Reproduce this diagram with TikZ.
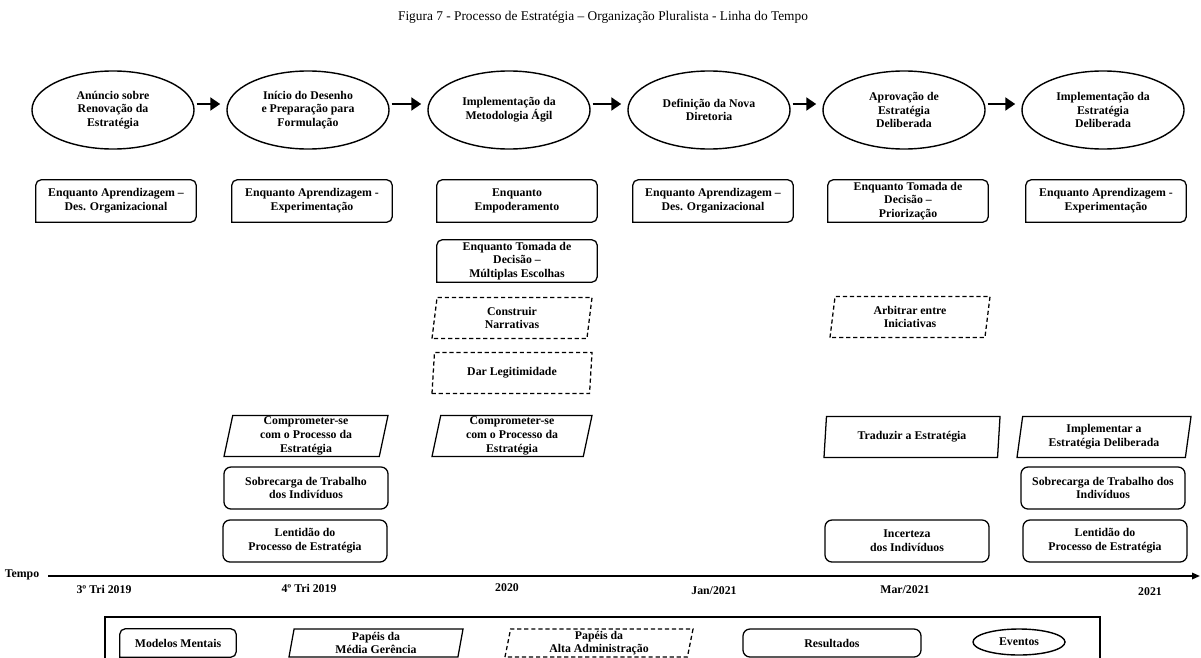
\documentclass[tikz,border=0pt]{standalone}
\usepackage{fontspec}
\setmainfont{Liberation Serif}
\usetikzlibrary{arrows.meta, positioning, shapes.geometric}

% frame with rounded top and square bottom
\newcommand{\topframe}[1]{%
  \draw[line width=0.9pt] (#1.south west) [rounded corners=4pt] -- (#1.north west) -- (#1.north east) -- (#1.south east) [sharp corners] -- cycle;}

\begin{document}
\begin{tikzpicture}[x=0.025cm, y=-0.025cm,
  lbl/.style={font=\fontsize{8.4}{9.8}\selectfont\bfseries, align=center, inner sep=0pt},
  evento/.style={lbl, draw, ellipse, line width=1pt, minimum width=4.05cm, minimum height=1.95cm},
  modelo/.style={lbl, minimum width=4cm, minimum height=1.05cm},
  resultado/.style={lbl, draw, line width=0.9pt, rounded corners=5pt, minimum width=4.1cm, minimum height=1.05cm},
  media/.style={lbl, draw, line width=0.9pt, trapezium, trapezium left angle=77, trapezium right angle=103,
    trapezium stretches body, minimum width=4cm, minimum height=1.03cm},
  alta/.style={media, dash pattern=on 3pt off 2pt},
  flow/.style={line width=2pt, -{Triangle[length=0.25cm,width=0.32cm]}, shorten <=0.05cm, shorten >=0.15cm},
  axis/.style={line width=1.3pt, -{Triangle[length=0.2cm,width=0.16cm]}}
]
\useasboundingbox (0,0) rectangle (1201,657);
\clip (0,0) rectangle (1201,657);

\node[font=\fontsize{9.5}{11}\selectfont] (titulo) at (603,17)
  {Figura 7 - Processo de Estratégia – Organização Pluralista - Linha do Tempo};

% Eventos
\node[evento] (e1) at (113,110) {Anúncio sobre\\Renovação da\\Estratégia};
\node[evento] (e2) at (308,110) {Início do Desenho\\e Preparação para\\Formulação};
\node[evento] (e3) at (509,110) {Implementação da\\Metodologia Ágil};
\node[evento] (e4) at (709,110) {Definição da Nova\\Diretoria};
\node[evento] (e5) at (904,110) {Aprovação de\\Estratégia\\Deliberada};
\node[evento] (e6) at (1103,110) {Implementação da\\Estratégia\\Deliberada};

\draw[flow] ([yshift=0.15cm]e1.east) -- ([yshift=0.15cm]e2.west);
\draw[flow] ([yshift=0.15cm]e2.east) -- ([yshift=0.15cm]e3.west);
\draw[flow] ([yshift=0.15cm]e3.east) -- ([yshift=0.15cm]e4.west);
\draw[flow] ([yshift=0.15cm]e4.east) -- ([yshift=0.15cm]e5.west);
\draw[flow] ([yshift=0.15cm]e5.east) -- ([yshift=0.15cm]e6.west);

% Modelos mentais
\node[modelo] (m1) at (116,201) {Enquanto Aprendizagem –\\Des. Organizacional};
\node[modelo] (m2) at (312,201) {Enquanto Aprendizagem -\\Experimentação};
\node[modelo] (m3) at (517,201) {Enquanto\\Empoderamento};
\node[modelo] (m3b) at (517,261) {Enquanto Tomada de\\Decisão –\\Múltiplas Escolhas};
\node[modelo] (m4) at (713,201) {Enquanto Aprendizagem –\\Des. Organizacional};
\node[modelo] (m5) at (908,201) {Enquanto Tomada de\\Decisão –\\Priorização};
\node[modelo] (m6) at (1106,201) {Enquanto Aprendizagem -\\Experimentação};

% Papeis da alta administracao
\node[alta] (a1) at (512,318) {Construir\\Narrativas};
\node[alta] (a2) at (512,373) {Dar Legitimidade};
\node[alta] (a3) at (910,317) {Arbitrar entre\\Iniciativas};

% Papeis da media gerencia
\node[media, minimum width=4.1cm] (g1) at (306,436) {Comprometer-se\\com o Processo da\\Estratégia};
\node[media] (g2) at (512,436) {Comprometer-se\\com o Processo da\\Estratégia};
\node[media, minimum width=4.4cm] (g3) at (912,437) {Traduzir a Estratégia};
\node[media, minimum width=4.35cm] (g4) at (1104,437) {Implementar a\\Estratégia Deliberada};

% Resultados
\node[resultado] (r1) at (306,488) {Sobrecarga de Trabalho\\dos Indivíduos};
\node[resultado] (r2) at (305,541) {Lentidão do\\Processo de Estratégia};
\node[resultado] (r3) at (907,541) {Incerteza\\dos Indivíduos};
\node[resultado] (r4) at (1103,488) {Sobrecarga de Trabalho dos\\Indivíduos};
\node[resultado] (r5) at (1105,541) {Lentidão do\\Processo de Estratégia};

% Linha do tempo
\coordinate (t0) at (48,576);
\coordinate (t1) at (1200,576);
\draw[axis] (t0) -- (t1);
\node[lbl] (tempo) at (22,575) {Tempo};
\node[lbl] (d1) at (104,589) {3º Tri 2019};
\node[lbl] (d2) at (309,588) {4º Tri 2019};
\node[lbl] (d3) at (507,588) {2020};
\node[lbl] (d4) at (714,591) {Jan/2021};
\node[lbl] (d5) at (905,590) {Mar/2021};
\node[lbl] (d6) at (1150,592) {2021};

% Legenda
\node[draw, line width=1pt, minimum width=24.875cm, minimum height=2.075cm] (legenda) at (602.5,658.5) {};
\node[modelo, minimum width=2.9cm, minimum height=0.7cm] (lg1) at (178,643) {Modelos Mentais};
\node[media, minimum width=4.35cm, minimum height=0.7cm] (lg2) at (376,643) {Papéis da\\Média Gerência};
\node[alta, minimum width=4.7cm, minimum height=0.7cm] (lg3) at (599,643) {Papéis da\\Alta Administração};
\node[resultado, minimum width=4.45cm, minimum height=0.7cm] (lg4) at (832,643) {Resultados};
\node[evento, minimum width=2.3cm, minimum height=0.65cm] (lg5) at (1019,642) {Eventos};

\foreach \n in {m1,m2,m3,m3b,m4,m5,m6,lg1} {\topframe{\n}}

\end{tikzpicture}
\end{document}
